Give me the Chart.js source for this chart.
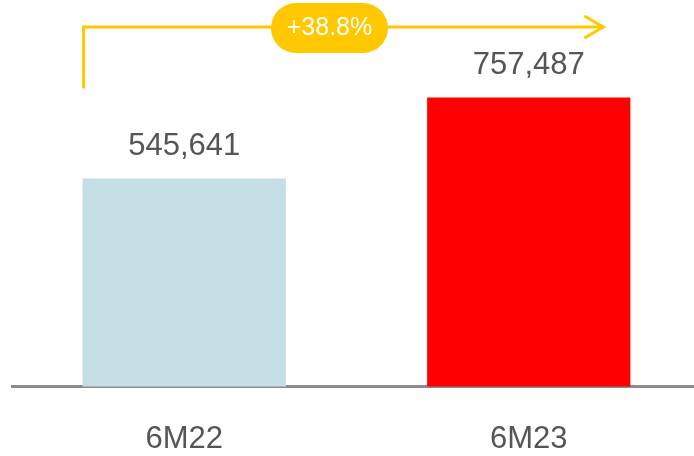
<!DOCTYPE html>
<html>
<head>
<meta charset="utf-8">
<script src="https://cdn.jsdelivr.net/npm/chart.js@4"></script>
<style>
  html, body { margin: 0; padding: 0; background: #fff; overflow: hidden; }
  #wrap { position: relative; width: 701px; height: 492px; }
</style>
</head>
<body>
<div id="wrap"><canvas id="growthChart"></canvas></div>
<script>
const periods = ["6M22", "6M23"];
const totals = [545641, 757487];
const barColors = ["#c5dee6", "#ff0000"];
const growthLabel = "+38.8%";

const FONT = "'Liberation Sans', Arial, sans-serif";
const YELLOW = "#ffc800";

// value labels above each bar
const valueLabels = {
  id: "valueLabels",
  afterDatasetsDraw(chart) {
    const ctx = chart.ctx;
    const bars = chart.getDatasetMeta(0).data;
    ctx.save();
    ctx.font = "31px " + FONT;
    ctx.fillStyle = "#555555";
    ctx.textAlign = "center";
    ctx.textBaseline = "middle";
    bars.forEach((bar, i) => {
      ctx.fillText(totals[i].toLocaleString("en-US"), bar.x, bar.y - 32);
    });
    ctx.restore();
  }
};

// growth arrow with the yellow pill
const growthArrow = {
  id: "growthArrow",
  afterDatasetsDraw(chart) {
    const ctx = chart.ctx;
    const bars = chart.getDatasetMeta(0).data;
    const b1 = bars[0], b2 = bars[1];
    const x0 = b1.x - b1.width / 2 + 1;
    const lineY = 27;
    const tipX = b2.x + b2.width / 2 - 27;
    ctx.save();
    ctx.strokeStyle = YELLOW;
    ctx.lineWidth = 3;
    ctx.beginPath();
    ctx.moveTo(x0, b1.y - 90);
    ctx.lineTo(x0, lineY);
    ctx.lineTo(tipX, lineY);
    ctx.stroke();
    ctx.beginPath();
    ctx.moveTo(tipX - 19, lineY - 11);
    ctx.lineTo(tipX, lineY);
    ctx.lineTo(tipX - 19, lineY + 11);
    ctx.stroke();

    const cx = x0 + (tipX - x0) * 0.473;
    const w = 117, h = 50, r = 25;
    ctx.fillStyle = YELLOW;
    ctx.beginPath();
    ctx.roundRect(cx - w / 2, lineY - h / 2 + 1, w, h, r);
    ctx.fill();
    ctx.fillStyle = "#ffffff";
    ctx.font = "25px " + FONT;
    ctx.textAlign = "center";
    ctx.textBaseline = "middle";
    ctx.fillText(growthLabel, cx, lineY + 1);
    ctx.restore();
  }
};

new Chart(document.getElementById("growthChart"), {
  type: "bar",
  data: {
    labels: periods,
    datasets: [{
      data: totals,
      backgroundColor: barColors,
      barPercentage: 0.59,
      categoryPercentage: 1
    }]
  },
  options: {
    responsive: true,
    maintainAspectRatio: false,
    animation: false,
    layout: { padding: { left: 12, top: 5, right: 0, bottom: 0 } },
    plugins: {
      legend: { display: false },
      tooltip: { enabled: false }
    },
    scales: {
      x: {
        grid: { display: false, drawTicks: false },
        border: { display: true, color: "#8c8c8c", width: 3 },
        ticks: {
          color: "#555555",
          padding: 34,
          font: { family: FONT, size: 31 }
        }
      },
      y: {
        display: false,
        min: 0,
        max: 1000000
      }
    }
  },
  plugins: [valueLabels, growthArrow]
});
</script>
</body>
</html>
